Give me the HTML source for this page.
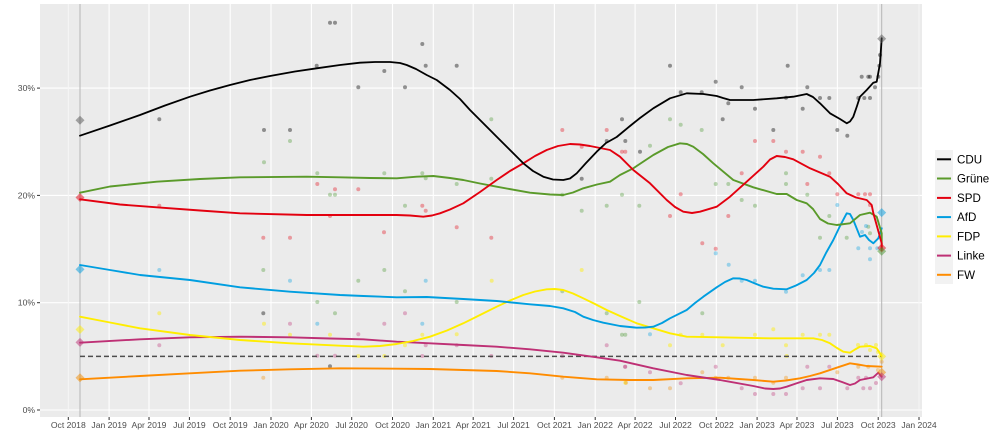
<!DOCTYPE html>
<html><head><meta charset="utf-8"><style>
html,body{margin:0;padding:0;background:#fff;}
svg{display:block;font-family:"Liberation Sans",sans-serif;}
</style></head><body>
<svg width="1000" height="444" viewBox="0 0 1000 444" xmlns="http://www.w3.org/2000/svg">
<rect x="0" y="0" width="1000" height="444" fill="#fff"/>
<rect x="40" y="4" width="882" height="413" fill="#EBEBEB"/>
<g stroke="#fff" stroke-width="1.1">
<line x1="40" x2="922" y1="410" y2="410"/>
<line x1="40" x2="922" y1="302.7" y2="302.7"/>
<line x1="40" x2="922" y1="195.4" y2="195.4"/>
<line x1="40" x2="922" y1="88.1" y2="88.1"/>
<line x1="109.1" x2="109.1" y1="4" y2="417"/>
<line x1="149" x2="149" y1="4" y2="417"/>
<line x1="189.4" x2="189.4" y1="4" y2="417"/>
<line x1="230.2" x2="230.2" y1="4" y2="417"/>
<line x1="271" x2="271" y1="4" y2="417"/>
<line x1="311.4" x2="311.4" y1="4" y2="417"/>
<line x1="351.7" x2="351.7" y1="4" y2="417"/>
<line x1="392.5" x2="392.5" y1="4" y2="417"/>
<line x1="433.3" x2="433.3" y1="4" y2="417"/>
<line x1="473.2" x2="473.2" y1="4" y2="417"/>
<line x1="513.6" x2="513.6" y1="4" y2="417"/>
<line x1="554.4" x2="554.4" y1="4" y2="417"/>
<line x1="595.2" x2="595.2" y1="4" y2="417"/>
<line x1="635.1" x2="635.1" y1="4" y2="417"/>
<line x1="675.5" x2="675.5" y1="4" y2="417"/>
<line x1="716.3" x2="716.3" y1="4" y2="417"/>
<line x1="757.1" x2="757.1" y1="4" y2="417"/>
<line x1="797" x2="797" y1="4" y2="417"/>
<line x1="837.4" x2="837.4" y1="4" y2="417"/>
<line x1="878.2" x2="878.2" y1="4" y2="417"/>
</g>
<g stroke="#f6f6f6" stroke-width="1">
<line x1="68.3" x2="68.3" y1="4" y2="417"/>
<line x1="919" x2="919" y1="4" y2="417"/>
</g>
<!-- election lines -->
<g stroke="#b5b5b5" stroke-width="1">
<line x1="80" x2="80" y1="4" y2="417"/>
<line x1="881.7" x2="881.7" y1="4" y2="417"/>
</g>
<!-- poll dots -->
<g fill="#000" fill-opacity="0.4">
<circle cx="159.3" cy="119.3" r="2"/><circle cx="264" cy="130" r="2"/><circle cx="290" cy="130" r="2"/><circle cx="316.7" cy="65.7" r="2"/><circle cx="330" cy="22.7" r="2"/><circle cx="335" cy="22.7" r="2"/><circle cx="358.3" cy="87.3" r="2"/><circle cx="384.3" cy="71" r="2"/><circle cx="405" cy="87.3" r="2"/><circle cx="422.3" cy="44" r="2"/><circle cx="425.7" cy="65.7" r="2"/><circle cx="456.7" cy="65.7" r="2"/><circle cx="581.7" cy="178.7" r="2"/><circle cx="606.7" cy="141" r="2"/><circle cx="622" cy="119.3" r="2"/><circle cx="625.3" cy="141" r="2"/><circle cx="640" cy="151.7" r="2"/><circle cx="670" cy="65.7" r="2"/><circle cx="680.7" cy="92.3" r="2"/><circle cx="701.7" cy="92.3" r="2"/><circle cx="715.7" cy="81.7" r="2"/><circle cx="722.7" cy="119.3" r="2"/><circle cx="728.3" cy="103.3" r="2"/><circle cx="741.7" cy="87.3" r="2"/><circle cx="755" cy="108.7" r="2"/><circle cx="773.3" cy="130" r="2"/><circle cx="786" cy="97.7" r="2"/><circle cx="787.7" cy="65.7" r="2"/><circle cx="802.7" cy="108.7" r="2"/><circle cx="807.3" cy="87.3" r="2"/><circle cx="820" cy="98" r="2"/><circle cx="829.3" cy="98" r="2"/><circle cx="837.3" cy="130" r="2"/><circle cx="847.3" cy="135.7" r="2"/><circle cx="858.3" cy="98" r="2"/><circle cx="861.7" cy="76.7" r="2"/><circle cx="864.3" cy="98" r="2"/><circle cx="868.3" cy="76.7" r="2"/><circle cx="870" cy="76.7" r="2"/><circle cx="870" cy="98" r="2"/><circle cx="875" cy="87.3" r="2"/><circle cx="878.3" cy="76.7" r="2"/><circle cx="880" cy="55" r="2"/><circle cx="879.3" cy="65.7" r="2"/><circle cx="263.3" cy="313.3" r="2"/><circle cx="330" cy="366.3" r="2"/>
</g>
<g fill="#E3000F" fill-opacity="0.35">
<circle cx="317.3" cy="184" r="2"/><circle cx="335" cy="189.3" r="2"/><circle cx="330" cy="216" r="2"/><circle cx="159.3" cy="205.7" r="2"/><circle cx="263.3" cy="237.7" r="2"/><circle cx="290" cy="237.7" r="2"/><circle cx="358.3" cy="189.3" r="2"/><circle cx="422.3" cy="205.7" r="2"/><circle cx="425.7" cy="210.7" r="2"/><circle cx="384" cy="232.3" r="2"/><circle cx="456.7" cy="227.3" r="2"/><circle cx="491.3" cy="237.7" r="2"/><circle cx="562.3" cy="130" r="2"/><circle cx="606.7" cy="130" r="2"/><circle cx="581.7" cy="146.7" r="2"/><circle cx="622" cy="151.7" r="2"/><circle cx="625.3" cy="151.7" r="2"/><circle cx="755" cy="141" r="2"/><circle cx="773.3" cy="141" r="2"/><circle cx="741.7" cy="173.3" r="2"/><circle cx="786" cy="151.7" r="2"/><circle cx="802.7" cy="151.7" r="2"/><circle cx="820" cy="156.7" r="2"/><circle cx="829.3" cy="173.3" r="2"/><circle cx="807.3" cy="184" r="2"/><circle cx="680.7" cy="194.3" r="2"/><circle cx="670" cy="216" r="2"/><circle cx="728.3" cy="216" r="2"/><circle cx="837.3" cy="194.3" r="2"/><circle cx="858.3" cy="194.3" r="2"/><circle cx="865" cy="194.3" r="2"/><circle cx="870" cy="194.3" r="2"/><circle cx="870" cy="205" r="2"/><circle cx="702.3" cy="243.3" r="2"/><circle cx="715.7" cy="248.7" r="2"/>
</g>
<g fill="#46962B" fill-opacity="0.35">
<circle cx="290" cy="141" r="2"/><circle cx="264" cy="162.3" r="2"/><circle cx="317.3" cy="173.3" r="2"/><circle cx="330" cy="194.7" r="2"/><circle cx="335" cy="194.7" r="2"/><circle cx="384.3" cy="173.3" r="2"/><circle cx="422.3" cy="173.3" r="2"/><circle cx="425.7" cy="178.3" r="2"/><circle cx="456.7" cy="184" r="2"/><circle cx="491.3" cy="119.3" r="2"/><circle cx="491.3" cy="178.7" r="2"/><circle cx="562.3" cy="194.7" r="2"/><circle cx="581.7" cy="210.7" r="2"/><circle cx="606.7" cy="205.7" r="2"/><circle cx="622" cy="194.7" r="2"/><circle cx="405" cy="205.7" r="2"/><circle cx="670" cy="119.3" r="2"/><circle cx="680.7" cy="124.7" r="2"/><circle cx="701.7" cy="130" r="2"/><circle cx="650" cy="145.7" r="2"/><circle cx="715.7" cy="184" r="2"/><circle cx="728.3" cy="184" r="2"/><circle cx="741.7" cy="200" r="2"/><circle cx="755" cy="205.7" r="2"/><circle cx="786" cy="173.3" r="2"/><circle cx="786" cy="184" r="2"/><circle cx="807.3" cy="194.7" r="2"/><circle cx="639.3" cy="205.7" r="2"/><circle cx="820" cy="237.7" r="2"/><circle cx="846.7" cy="237.7" r="2"/><circle cx="829.3" cy="216" r="2"/><circle cx="868.3" cy="226.7" r="2"/><circle cx="870" cy="233.3" r="2"/><circle cx="263.3" cy="270" r="2"/><circle cx="317.3" cy="302" r="2"/><circle cx="335" cy="313.3" r="2"/><circle cx="358.3" cy="280.7" r="2"/><circle cx="384.3" cy="270" r="2"/><circle cx="405" cy="291.3" r="2"/><circle cx="456.7" cy="302" r="2"/><circle cx="562.3" cy="291.3" r="2"/><circle cx="606.7" cy="313.3" r="2"/><circle cx="622" cy="334.7" r="2"/><circle cx="625.3" cy="334.7" r="2"/><circle cx="639.3" cy="302" r="2"/><circle cx="702.3" cy="313.3" r="2"/>
</g>
<g fill="#009EE0" fill-opacity="0.35">
<circle cx="159.3" cy="270" r="2"/><circle cx="290" cy="280.7" r="2"/><circle cx="317.3" cy="323.7" r="2"/><circle cx="425.7" cy="280.7" r="2"/><circle cx="422.3" cy="323.7" r="2"/><circle cx="870" cy="259.3" r="2"/><circle cx="858.3" cy="248.3" r="2"/><circle cx="870" cy="248.3" r="2"/><circle cx="877.3" cy="248.3" r="2"/><circle cx="820" cy="270" r="2"/><circle cx="829.3" cy="270" r="2"/><circle cx="802.7" cy="275.3" r="2"/><circle cx="786" cy="291.7" r="2"/><circle cx="741.7" cy="280.7" r="2"/><circle cx="755" cy="280.7" r="2"/><circle cx="715.7" cy="253.3" r="2"/><circle cx="650" cy="334.3" r="2"/><circle cx="837.3" cy="205" r="2"/><circle cx="862" cy="232" r="2"/><circle cx="866" cy="226" r="2"/><circle cx="728.7" cy="264.7" r="2"/>
</g>
<g fill="#FFED00" fill-opacity="0.45">
<circle cx="159.3" cy="313.3" r="2"/><circle cx="264" cy="323.7" r="2"/><circle cx="290" cy="334.7" r="2"/><circle cx="330" cy="334.7" r="2"/><circle cx="491.7" cy="280.7" r="2"/><circle cx="581.7" cy="270" r="2"/><circle cx="456.7" cy="334.3" r="2"/><circle cx="422.3" cy="334.7" r="2"/><circle cx="405" cy="345.3" r="2"/><circle cx="358.3" cy="356" r="2"/><circle cx="384.3" cy="356" r="2"/><circle cx="670" cy="345.3" r="2"/><circle cx="680.7" cy="334.7" r="2"/><circle cx="702.3" cy="334.7" r="2"/><circle cx="722.7" cy="345.3" r="2"/><circle cx="755" cy="334.7" r="2"/><circle cx="773.3" cy="329.3" r="2"/><circle cx="786" cy="345.3" r="2"/><circle cx="802.7" cy="334.7" r="2"/><circle cx="820" cy="334.7" r="2"/><circle cx="829.3" cy="334.7" r="2"/><circle cx="786.7" cy="356" r="2"/><circle cx="858" cy="345" r="2"/><circle cx="866" cy="345" r="2"/><circle cx="870" cy="350" r="2"/><circle cx="876" cy="345" r="2"/><circle cx="878" cy="352" r="2"/><circle cx="625.3" cy="382.7" r="2"/>
</g>
<g fill="#BE3075" fill-opacity="0.35">
<circle cx="159.3" cy="345.3" r="2"/><circle cx="290" cy="323.7" r="2"/><circle cx="317.3" cy="355.7" r="2"/><circle cx="335" cy="355.7" r="2"/><circle cx="358.3" cy="334.3" r="2"/><circle cx="384.3" cy="323.7" r="2"/><circle cx="405" cy="313.3" r="2"/><circle cx="425.7" cy="345.3" r="2"/><circle cx="456.7" cy="345.3" r="2"/><circle cx="422.3" cy="356" r="2"/><circle cx="491.3" cy="356" r="2"/><circle cx="562.3" cy="356" r="2"/><circle cx="606.7" cy="345.3" r="2"/><circle cx="625.3" cy="366.7" r="2"/><circle cx="625" cy="366.7" r="2"/><circle cx="650" cy="372.3" r="2"/><circle cx="680.7" cy="383.3" r="2"/><circle cx="715.7" cy="366.7" r="2"/><circle cx="741.7" cy="388.3" r="2"/><circle cx="755" cy="394" r="2"/><circle cx="773.3" cy="394" r="2"/><circle cx="786" cy="394" r="2"/><circle cx="802.7" cy="388.3" r="2"/><circle cx="807.3" cy="366.7" r="2"/><circle cx="820" cy="388.3" r="2"/><circle cx="829.3" cy="366.7" r="2"/><circle cx="847.3" cy="388.3" r="2"/><circle cx="863.3" cy="388.3" r="2"/><circle cx="870" cy="388.3" r="2"/><circle cx="858.3" cy="377.7" r="2"/><circle cx="866" cy="377.7" r="2"/><circle cx="876" cy="383" r="2"/>
</g>
<g fill="#F28B00" fill-opacity="0.35">
<circle cx="263.3" cy="377.7" r="2"/><circle cx="562.3" cy="377.7" r="2"/><circle cx="606.7" cy="377.7" r="2"/><circle cx="626" cy="382.7" r="2"/><circle cx="650" cy="388.3" r="2"/><circle cx="670" cy="388.3" r="2"/><circle cx="702.3" cy="372.3" r="2"/><circle cx="715.7" cy="377.7" r="2"/><circle cx="728.3" cy="377.7" r="2"/><circle cx="755" cy="377.7" r="2"/><circle cx="773.3" cy="382.7" r="2"/><circle cx="786" cy="377.7" r="2"/><circle cx="837.3" cy="372.3" r="2"/><circle cx="858.3" cy="366.7" r="2"/><circle cx="868.3" cy="366.7" r="2"/><circle cx="881.7" cy="361.7" r="2"/><circle cx="878" cy="370" r="2"/>
</g>
<!-- 5% threshold -->
<line x1="80" x2="881.7" y1="356.4" y2="356.4" stroke="#4d4d4d" stroke-width="1.5" stroke-dasharray="5,3"/>
<!-- trend lines -->
<g fill="none" stroke-width="1.9" stroke-linejoin="round" stroke-linecap="round">
<polyline stroke="#FF8C00" points="80,379.3 140,376 190,373.3 240,370.7 290,369.3 340,368.3 396.7,368.7 430,369 463.3,370 496.7,371 530,373.3 563.3,376.7 596.7,379.3 630,380 653.3,380 686.7,378.3 720,377.7 753.3,380 773.3,381.7 786,380.5 800,378.3 810,376 820,373.3 836.7,367.7 850,363.3 858,364.5 866.7,366 881.7,366.7"/>
<polyline stroke="#BE3075" points="80,342.7 140,339.3 190,337.3 240,336.7 290,337.3 330,338.5 363.3,339.3 396.7,341.7 430,343.3 463.3,345 496.7,346.7 530,349.3 563.3,352.7 596.7,357.3 620,360.7 653.3,368.3 686.7,375 720,380 753.3,386 765,388.5 773.3,389 780,388.5 786.7,386.7 796,383.5 806.7,380 820,378.3 833.3,379 842,382 850,385 855,383.5 860,380 873.3,377.3 878.3,372.7 881.7,376.7"/>
<polyline stroke="#FFED00" points="80,316.7 110,322.5 140,328.3 190,335 240,340 290,343.3 340,345.7 363.3,346.7 380,346 396.7,344 413,341 430,336.7 447,330.5 463.3,323.3 480,315 496.7,306.7 510,300.5 523.3,295 535,291.5 546.7,289.3 555,289 563.3,290 573,293.5 583.3,298.3 595,304 606.7,310 620,316 636.7,323.3 653.3,328.3 670,333.3 686.7,336.7 720,337.3 770,338.3 813.3,338.3 822,340 830,343.3 837,348 843.3,351.7 850,352.7 855,349.5 860,346.7 870,346 876.7,348.3 881.7,356"/>
<polyline stroke="#009EE0" points="80,265 110,270 140,275 190,280 240,287.3 290,291.7 340,295 363.3,296 396.7,297.3 426.7,297 463.3,299 496.7,301 530,304.3 550,306 563.3,308.3 575,312 583.3,316.7 593,320 603.3,322.7 620,326 636.7,327.7 645,327.5 653.3,326.7 662,323 670,318.3 686.7,310 695,303 703.3,296.7 716.7,287.3 725,282 733.3,278.3 740,278.5 746.7,280 755,283.5 763.3,286.7 773.3,288.7 786.7,289.3 796,285.5 806.7,280 814,273 820,265 826,253 833.3,240 840,226 846.7,213.3 850,214 853.3,220 860,236.7 865,235 869,240 873.3,243.3 878.3,238.3 881.7,228.3"/>
<polyline stroke="#5A9A2A" points="80,192.7 110,186.5 156.7,181.7 200,179 240,177.3 306.7,176.7 340,177.3 370,178 396.7,178.3 416.7,176.7 433.3,176 450,178 463.3,180 480,183.5 496.7,186.7 530,192.7 550,194.5 563.3,195 573,192.5 583.3,188.3 597,184.5 610,181.7 620,175 633.3,168.3 653.3,155 668,147 680,143.3 687,144 693.3,146.7 703,154 713.3,163.3 733.3,180 753.3,187.3 776.7,194 786.7,194 796.7,200 806.7,203.3 813,209 820,219 828,223.5 836.7,225 850,223.3 860,215 870,212.7 876.7,216.7 881.7,233.3 881.7,250"/>
<polyline stroke="#E3000F" points="80,199.3 120,204.5 156.7,207.3 200,210.5 240,213.3 306.7,215 340,215 396.7,215 410,215.5 423.3,216.7 432,215.5 440,213.3 450,209.5 463.3,203.3 480,192 496.7,180 510,171 523.3,163.3 535,156 546.7,150 558,146 570,144 580,144.5 590,146 600,148 610,150 620,156.7 633.3,170 650,183.3 666.7,200 675,207 683.3,211.7 692,213 700,211.7 716.7,206.7 730,196.7 746.7,181.7 763.3,166.7 770,159.5 776.7,156 785,157 793.3,159.3 810,168.3 820,172.5 830,176.7 838,184 846.7,193.3 856,197.5 866.7,200 871.7,205 873.3,213 881.7,243.3 881.7,248"/>
<polyline stroke="#000" stroke-width="1.8" points="80,135.7 110,125.5 140,115 165,105.5 190,96.7 210,90.5 230,85 250,80 270,76 295,71.5 316.7,68.3 340,65 360,62.7 375,62 390,62 400,63 406.7,65 416,69 426.7,75 436.7,80 450,90 460,99 470,110 483,123 496.7,136.7 510,150 523.3,163.3 533,171 543.3,176.7 553,179.5 563.3,180 570,178.5 576.7,173.3 586,163 596.7,151.7 606,143 616.7,137 630,126 640,118 653.3,108.3 670,98.3 686.7,93.3 703.3,94 716.7,96 723,98 730,100 753.3,100 776.7,98.3 793.3,96.7 806.7,94 813,97 820,103.3 830,113.3 840,119 846.7,123.3 850,121.5 853.3,116.7 857,106 860,96.7 866.7,90 873.3,82.7 876.7,81.7 880,63.3 881.7,38.3"/>
</g>
<!-- election result diamonds -->
<g fill-opacity="0.5">
<path d="M80,115.8 L84.5,120.3 L80,124.8 L75.5,120.3Z" fill="#555"/>
<path d="M80,193 L84.5,197.5 L80,202 L75.5,197.5Z" fill="#E3000F"/>
<path d="M80,264.9 L84.5,269.4 L80,273.9 L75.5,269.4Z" fill="#009EE0"/>
<path d="M80,325 L84.5,329.5 L80,334 L75.5,329.5Z" fill="#FFED00"/>
<path d="M80,337.9 L84.5,342.4 L80,346.9 L75.5,342.4Z" fill="#BE3075"/>
<path d="M80,373.3 L84.5,377.8 L80,382.3 L75.5,377.8Z" fill="#F28B00"/>
<path d="M881.7,34.2 L886.2,38.7 L881.7,43.2 L877.2,38.7Z" fill="#555"/>
<path d="M881.7,208.1 L886.2,212.6 L881.7,217.1 L877.2,212.6Z" fill="#009EE0"/>
<path d="M881.7,243.5 L886.2,248 L881.7,252.5 L877.2,248Z" fill="#E3000F"/>
<path d="M881.7,246.7 L886.2,251.2 L881.7,255.7 L877.2,251.2Z" fill="#46962B"/>
<path d="M881.7,351.9 L886.2,356.4 L881.7,360.9 L877.2,356.4Z" fill="#FFED00"/>
<path d="M881.7,367.9 L886.2,372.4 L881.7,376.9 L877.2,372.4Z" fill="#F28B00"/>
<path d="M881.7,372.2 L886.2,376.7 L881.7,381.2 L877.2,376.7Z" fill="#BE3075"/>
</g>
<!-- axes ticks -->
<g stroke="#333" stroke-width="1">
<line x1="37" x2="40" y1="410" y2="410"/><line x1="37" x2="40" y1="302.7" y2="302.7"/><line x1="37" x2="40" y1="195.4" y2="195.4"/><line x1="37" x2="40" y1="88.1" y2="88.1"/>
<line x1="68.3" x2="68.3" y1="417" y2="420"/><line x1="109.1" x2="109.1" y1="417" y2="420"/><line x1="149" x2="149" y1="417" y2="420"/><line x1="189.4" x2="189.4" y1="417" y2="420"/><line x1="230.2" x2="230.2" y1="417" y2="420"/><line x1="271" x2="271" y1="417" y2="420"/><line x1="311.4" x2="311.4" y1="417" y2="420"/><line x1="351.7" x2="351.7" y1="417" y2="420"/><line x1="392.5" x2="392.5" y1="417" y2="420"/><line x1="433.3" x2="433.3" y1="417" y2="420"/><line x1="473.2" x2="473.2" y1="417" y2="420"/><line x1="513.6" x2="513.6" y1="417" y2="420"/><line x1="554.4" x2="554.4" y1="417" y2="420"/><line x1="595.2" x2="595.2" y1="417" y2="420"/><line x1="635.1" x2="635.1" y1="417" y2="420"/><line x1="675.5" x2="675.5" y1="417" y2="420"/><line x1="716.3" x2="716.3" y1="417" y2="420"/><line x1="757.1" x2="757.1" y1="417" y2="420"/><line x1="797" x2="797" y1="417" y2="420"/><line x1="837.4" x2="837.4" y1="417" y2="420"/><line x1="878.2" x2="878.2" y1="417" y2="420"/><line x1="919" x2="919" y1="417" y2="420"/>
</g>
<g font-size="8.6" fill="#4d4d4d" text-anchor="end">
<text x="35" y="413">0%</text><text x="35" y="305.7">10%</text><text x="35" y="198.4">20%</text><text x="35" y="91.1">30%</text>
</g>
<g font-size="8.6" fill="#4d4d4d" text-anchor="middle">
<text x="68.3" y="428">Oct 2018</text><text x="109.1" y="428">Jan 2019</text><text x="149" y="428">Apr 2019</text><text x="189.4" y="428">Jul 2019</text><text x="230.2" y="428">Oct 2019</text><text x="271" y="428">Jan 2020</text><text x="311.4" y="428">Apr 2020</text><text x="351.7" y="428">Jul 2020</text><text x="392.5" y="428">Oct 2020</text><text x="433.3" y="428">Jan 2021</text><text x="473.2" y="428">Apr 2021</text><text x="513.6" y="428">Jul 2021</text><text x="554.4" y="428">Oct 2021</text><text x="595.2" y="428">Jan 2022</text><text x="635.1" y="428">Apr 2022</text><text x="675.5" y="428">Jul 2022</text><text x="716.3" y="428">Oct 2022</text><text x="757.1" y="428">Jan 2023</text><text x="797" y="428">Apr 2023</text><text x="837.4" y="428">Jul 2023</text><text x="878.2" y="428">Oct 2023</text><text x="919" y="428">Jan 2024</text>
</g>
<!-- legend -->
<rect x="935" y="150" width="18" height="134" fill="#F2F2F2"/>
<g stroke-width="2">
<line x1="937" x2="951" y1="159.3" y2="159.3" stroke="#000"/>
<line x1="937" x2="951" y1="178.5" y2="178.5" stroke="#5A9A2A"/>
<line x1="937" x2="951" y1="197.9" y2="197.9" stroke="#E3000F"/>
<line x1="937" x2="951" y1="217.1" y2="217.1" stroke="#009EE0"/>
<line x1="937" x2="951" y1="236.4" y2="236.4" stroke="#FFED00"/>
<line x1="937" x2="951" y1="255.6" y2="255.6" stroke="#BE3075"/>
<line x1="937" x2="951" y1="274.8" y2="274.8" stroke="#FF8C00"/>
</g>
<g font-size="11.6" fill="#000">
<text x="957" y="163.4">CDU</text>
<text x="957" y="182.6">Grüne</text>
<text x="957" y="202">SPD</text>
<text x="957" y="221.2">AfD</text>
<text x="957" y="240.5">FDP</text>
<text x="957" y="259.7">Linke</text>
<text x="957" y="278.9">FW</text>
</g>
</svg>
</body></html>
